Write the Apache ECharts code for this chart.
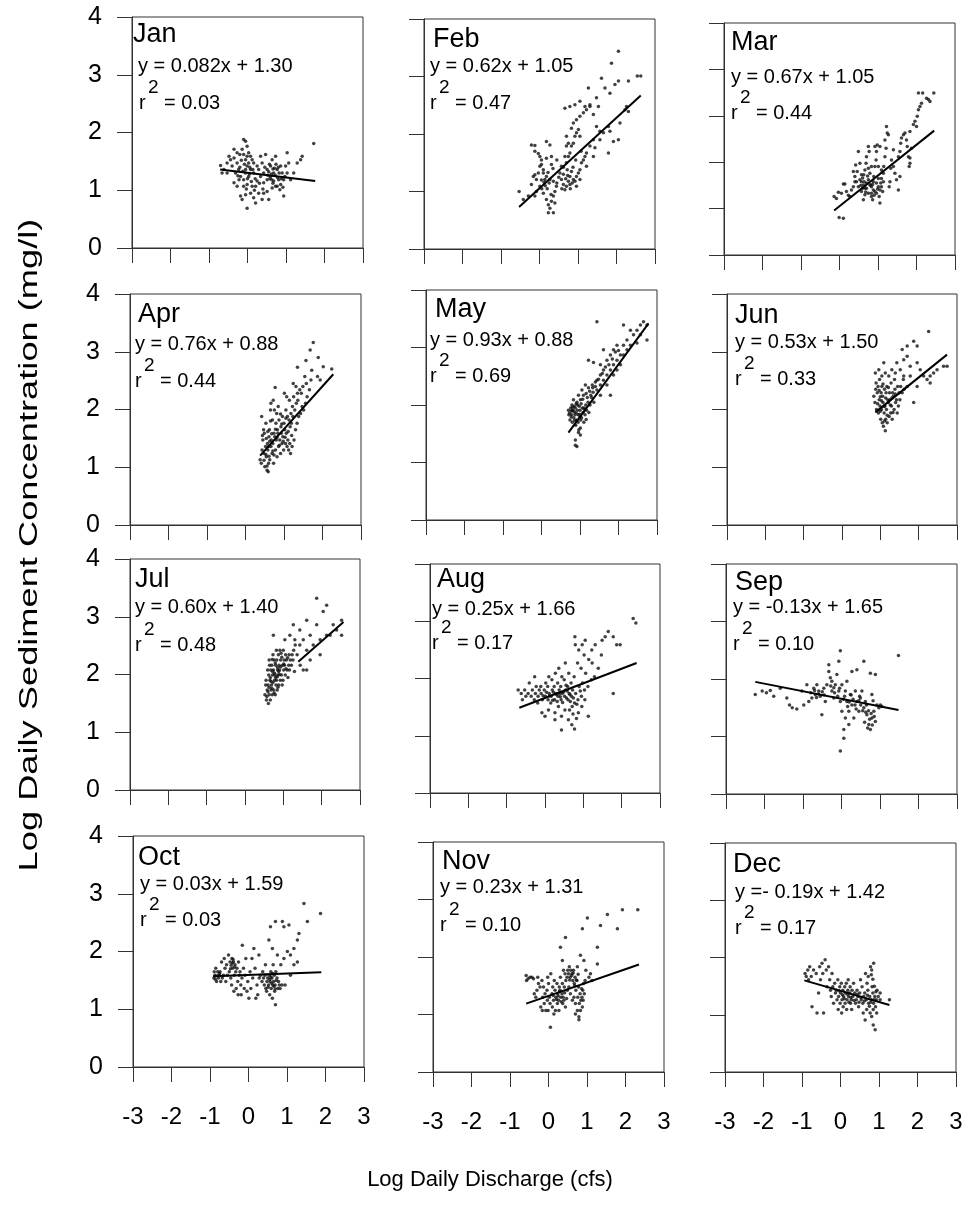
<!DOCTYPE html>
<html><head><meta charset="utf-8">
<script src="https://cdn.jsdelivr.net/npm/echarts@6/dist/echarts.min.js"></script>
<style>html,body{margin:0;padding:0;background:#fff}#c{width:967px;height:1205px}</style>
</head><body><div id="c"></div>
<script>
const months = ['Jan','Feb','Mar','Apr','May','Jun','Jul','Aug','Sep','Oct','Nov','Dec'];
const equations = ['y = 0.082x + 1.30','y = 0.62x + 1.05','y = 0.67x + 1.05','y = 0.76x + 0.88','y = 0.93x + 0.88','y = 0.53x + 1.50','y = 0.60x + 1.40','y = 0.25x + 1.66','y = -0.13x + 1.65','y = 0.03x + 1.59','y = 0.23x + 1.31','y =- 0.19x + 1.42'];
const r2Values = ['0.03','0.47','0.44','0.44','0.69','0.33','0.48','0.17','0.10','0.03','0.10','0.17'];
const xAxisName = 'Log Daily Discharge (cfs)';
const yAxisName = 'Log Daily Sediment Concentration (mg/l)';
const xRange = [-3, 3];
const yRangeMax = [4,4,5,4,4,4,4,4,4,4,4,4];

const jan = [[-0.70,1.43],[-0.66,1.30],[-0.61,1.36],[-0.53,1.47],[-0.48,1.59],[-0.44,1.53],[-0.40,1.42],[-0.35,1.56],[-0.31,1.30],[-0.27,1.47],[-0.53,1.30],[-0.20,1.62],[-0.18,1.24],[-0.14,1.71],[-0.10,1.88],[-0.05,1.85],[-0.01,1.76],[0.03,1.65],[0.08,1.59],[-0.01,1.42],[-0.05,1.36],[0.03,1.24],[-0.10,1.07],[-0.18,0.90],[-0.14,0.84],[-0.05,0.92],[-0.01,0.69],[0.08,0.95],[0.12,1.07],[0.16,0.87],[0.21,1.07],[0.25,1.16],[0.16,1.30],[0.29,1.36],[0.34,1.59],[0.38,1.47],[0.42,1.30],[0.47,1.62],[0.51,1.18],[0.55,0.84],[0.51,0.98],[0.60,1.42],[0.64,1.53],[0.68,1.30],[0.73,1.59],[0.77,1.07],[0.81,1.18],[0.84,1.01],[0.86,1.42],[0.90,1.30],[0.94,0.90],[0.99,1.42],[1.03,1.65],[1.07,1.47],[1.12,1.18],[1.20,1.30],[1.29,1.47],[1.38,1.53],[1.42,1.59],[1.72,1.81],[-0.35,1.13],[-0.27,1.07],[-0.23,1.36],[-0.10,1.18],[-0.01,1.10],[0.08,1.36],[0.16,1.47],[0.25,1.42],[0.34,1.24],[0.42,1.13],[0.51,1.36],[0.60,1.24],[0.68,1.16],[0.77,1.36],[0.86,1.10],[0.94,1.18],[1.03,1.30],[0.64,1.04],[0.73,1.07],[0.42,0.95],[0.29,0.95],[0.38,0.84],[0.21,0.78],[-0.01,1.59],[-0.05,1.53],[0.03,1.47],[0.12,1.53],[-0.10,1.62],[-0.27,1.65],[-0.35,1.71],[-0.05,1.30],[0.00,1.20],[0.05,1.28],[-0.12,1.33],[0.10,1.15],[0.55,1.32],[0.62,1.28],[0.70,1.38],[0.78,1.22],[0.82,1.30],[0.66,1.12],[0.58,1.20],[0.74,1.45],[-0.20,1.40],[-0.25,1.25],[0.45,1.40],[0.88,1.20],[0.92,1.05],[0.40,1.02],[0.20,1.20],[-0.08,1.45],[0.06,1.40],[-0.16,1.52],[0.14,1.36],[0.57,1.45],[0.66,1.37],[0.72,1.26],[0.80,1.40],[0.63,1.18],[0.53,1.26],[0.97,1.24],[-0.03,1.02],[0.18,1.00],[0.31,1.12],[-0.22,1.18]];
const feb = [[-0.53,1.00],[-0.42,0.86],[-0.29,0.92],[-0.21,1.12],[-0.16,1.26],[-0.12,1.29],[-0.08,1.21],[-0.03,1.32],[0.01,1.44],[0.05,1.47],[0.10,1.32],[0.14,1.21],[-0.12,0.92],[-0.08,1.00],[0.01,1.09],[0.10,0.97],[0.18,0.86],[0.23,0.77],[0.27,0.71],[0.23,0.63],[0.36,0.63],[0.31,0.83],[0.36,0.92],[0.40,1.00],[0.44,1.09],[0.36,1.18],[0.27,1.21],[0.18,1.26],[0.10,1.38],[0.05,1.55],[0.01,1.61],[-0.03,1.66],[-0.12,1.70],[-0.21,1.81],[-0.12,1.80],[0.18,1.87],[0.27,1.81],[0.18,1.58],[0.31,1.61],[0.31,1.47],[0.53,1.32],[0.57,1.21],[0.62,1.12],[0.66,1.03],[0.70,1.09],[0.75,1.18],[0.79,1.26],[0.83,1.35],[0.88,1.21],[0.92,1.18],[0.96,1.26],[1.01,1.32],[1.05,1.38],[1.09,1.50],[1.14,1.55],[1.18,1.61],[1.22,1.67],[0.70,1.50],[0.75,1.61],[0.79,1.67],[0.83,1.79],[0.88,1.84],[0.92,1.96],[0.96,2.02],[1.01,2.08],[1.05,1.96],[0.70,1.96],[0.75,1.84],[0.83,2.10],[0.88,2.19],[0.96,2.25],[1.05,2.31],[1.14,2.37],[1.22,2.42],[1.31,2.48],[0.66,2.45],[0.79,2.48],[0.92,2.51],[1.05,2.57],[1.18,2.48],[1.31,2.51],[1.40,2.34],[1.48,2.13],[1.57,2.05],[1.40,1.90],[1.31,1.79],[1.44,1.76],[1.40,1.61],[1.22,1.44],[1.05,1.21],[0.96,1.09],[0.79,1.12],[0.57,1.44],[0.66,1.61],[0.70,1.79],[1.27,2.80],[1.48,2.63],[1.53,2.48],[1.61,2.97],[1.70,2.80],[1.83,2.71],[1.87,3.23],[1.96,2.86],[2.05,2.92],[2.05,3.44],[2.31,2.92],[2.54,3.01],[2.63,3.01],[2.26,2.48],[2.31,2.39],[1.92,1.87],[2.05,1.90],[1.79,1.67],[1.83,2.05],[1.66,2.02],[1.79,2.13],[2.09,2.19],[2.22,2.42],[1.57,1.90],[0.45,1.15],[0.50,1.25],[0.58,1.05],[0.62,1.30],[0.68,1.22],[0.72,1.38],[0.80,1.05],[0.85,1.15],[0.20,1.05],[0.25,1.15],[0.05,1.20],[0.15,1.10],[0.40,0.80],[0.30,0.95],[0.35,1.40],[0.45,1.55],[0.12,1.16],[0.22,1.33],[0.06,1.05],[0.62,1.42],[0.73,1.28],[0.87,1.42],[0.94,1.55],[1.08,1.70]];
const mar = [[-0.14,1.26],[-0.08,1.22],[-0.01,0.81],[0.10,0.79],[-0.03,1.35],[0.05,1.33],[0.10,1.53],[0.14,1.53],[0.18,1.37],[0.23,1.29],[0.27,1.26],[0.31,1.40],[0.36,1.47],[0.40,1.58],[0.42,1.94],[0.46,1.80],[0.49,2.23],[0.53,1.98],[0.57,1.58],[0.60,1.44],[0.62,1.19],[0.63,1.73],[0.66,1.83],[0.69,1.98],[0.70,2.12],[0.75,2.34],[0.77,2.23],[0.79,1.76],[0.81,1.51],[0.83,1.33],[0.86,1.19],[0.88,1.58],[0.89,1.69],[0.92,1.91],[0.95,2.05],[0.96,2.23],[0.98,2.37],[1.01,1.47],[1.03,1.26],[1.05,1.12],[1.07,1.55],[1.09,1.65],[1.14,1.76],[1.15,1.91],[1.18,2.12],[1.21,2.30],[1.22,2.77],[1.24,2.63],[1.27,2.59],[1.29,1.47],[1.31,1.58],[1.33,1.87],[1.35,2.05],[1.40,1.91],[1.44,1.76],[1.48,1.62],[1.53,1.40],[1.53,2.12],[1.57,2.23],[1.59,2.41],[1.61,2.52],[1.66,2.59],[1.70,2.63],[1.74,2.48],[1.76,2.34],[1.79,2.12],[1.81,1.91],[1.83,2.09],[1.87,2.30],[1.83,2.66],[1.92,2.81],[1.96,2.88],[2.00,2.77],[2.02,2.99],[2.05,3.13],[2.09,3.20],[2.13,3.27],[2.16,3.49],[2.26,3.38],[2.31,3.35],[2.35,3.31],[2.45,3.49],[2.05,3.49],[1.83,1.98],[1.57,1.69],[1.40,2.27],[1.18,2.48],[1.05,2.34],[0.92,2.34],[0.53,1.62],[0.57,1.73],[0.62,1.51],[0.66,1.44],[0.70,1.55],[0.75,1.62],[0.79,1.51],[0.83,1.47],[0.88,1.40],[0.92,1.37],[0.96,1.55],[1.01,1.65],[0.70,1.44],[0.75,1.33],[0.83,1.26],[0.96,1.33],[1.05,1.40],[1.09,1.47],[1.14,1.58],[0.66,1.30],[0.57,1.37],[0.49,1.47],[0.44,1.58],[0.40,1.69],[0.36,1.80],[0.75,1.87],[0.83,1.91],[1.01,1.91],[1.09,1.83],[0.60,1.66],[0.68,1.36],[0.73,1.70],[0.86,1.52],[0.90,1.29],[0.99,1.42],[1.12,1.37],[0.55,1.50],[0.64,1.58]];
const apr = [[0.38,1.13],[0.41,1.07],[0.43,1.30],[0.45,1.47],[0.47,1.65],[0.42,1.88],[0.48,1.24],[0.50,1.01],[0.52,1.36],[0.49,1.59],[0.53,1.76],[0.56,0.95],[0.54,1.18],[0.57,1.41],[0.60,1.07],[0.58,1.30],[0.61,1.53],[0.59,0.92],[0.63,1.13],[0.66,1.36],[0.62,1.65],[0.65,1.99],[0.69,1.24],[0.67,1.47],[0.70,1.82],[0.66,2.11],[0.73,1.07],[0.71,1.41],[0.74,1.59],[0.72,2.16],[0.77,2.38],[0.78,1.30],[0.76,1.53],[0.79,1.76],[0.75,1.99],[0.82,1.18],[0.80,1.47],[0.83,1.65],[0.81,1.93],[0.86,1.36],[0.84,1.59],[0.87,1.82],[0.85,2.05],[0.91,1.24],[0.89,1.47],[0.92,1.70],[0.95,1.41],[0.93,1.59],[0.96,1.88],[0.99,1.30],[0.97,1.53],[1.00,1.76],[1.04,1.41],[1.02,1.65],[1.05,1.99],[1.01,2.28],[1.08,1.36],[1.06,1.59],[1.09,1.88],[1.07,2.22],[1.12,1.30],[1.10,1.47],[1.13,1.82],[1.17,1.24],[1.15,1.41],[1.18,1.93],[1.14,2.16],[1.21,1.36],[1.19,1.76],[1.22,2.05],[1.24,2.45],[1.26,1.47],[1.23,1.88],[1.25,2.22],[1.30,1.65],[1.28,1.99],[1.31,2.40],[1.34,1.76],[1.32,2.11],[1.35,2.28],[1.35,2.73],[1.38,1.88],[1.36,2.16],[1.43,1.93],[1.41,2.34],[1.47,2.05],[1.45,2.28],[1.51,1.99],[1.49,2.40],[1.56,2.11],[1.54,2.57],[1.57,2.85],[1.60,2.22],[1.58,2.45],[1.68,3.03],[1.66,2.34],[1.70,2.51],[1.76,3.16],[1.72,2.68],[1.87,2.57],[1.89,2.90],[1.94,2.51],[2.02,2.74],[2.24,2.70],[0.44,1.55],[0.53,1.22],[0.58,1.62],[0.63,1.45],[0.71,1.28],[0.78,1.66],[0.88,1.38],[0.94,1.75],[1.03,1.52],[1.11,1.62],[1.16,1.70],[0.48,1.12],[0.56,1.02],[0.61,1.19],[0.68,1.58],[0.74,1.21],[0.82,1.52],[0.91,1.92],[0.98,1.45],[1.05,1.85],[1.20,1.55],[0.60,1.36],[0.65,1.80],[0.54,1.50]];
const may = [[0.70,1.91],[0.71,1.83],[0.74,1.74],[0.76,1.95],[0.78,1.83],[0.80,1.70],[0.79,2.00],[0.82,1.91],[0.84,1.78],[0.83,2.09],[0.87,1.83],[0.89,1.65],[0.88,1.95],[0.91,1.74],[0.93,1.91],[0.92,2.05],[0.95,1.83],[0.97,1.57],[0.96,2.17],[1.00,1.91],[1.02,1.74],[1.01,1.48],[1.01,2.09],[1.04,1.78],[1.06,1.95],[1.05,2.26],[1.08,1.87],[1.10,1.70],[1.09,2.17],[1.13,1.83],[1.15,2.00],[1.14,2.35],[1.17,1.91],[1.19,2.13],[1.21,2.05],[1.23,1.87],[1.22,2.30],[1.26,2.00],[1.28,2.17],[1.30,2.13],[1.32,2.35],[1.34,2.22],[1.36,2.05],[0.88,1.30],[0.92,1.28],[0.88,1.39],[0.96,1.52],[1.01,1.60],[1.44,2.26],[1.44,2.43],[1.53,2.35],[1.53,2.52],[1.53,2.70],[1.61,2.43],[1.61,2.61],[1.70,2.52],[1.70,2.78],[1.70,2.35],[1.79,2.61],[1.79,2.87],[1.87,2.70],[1.87,2.96],[1.87,2.52],[1.96,2.78],[1.96,3.04],[2.05,2.87],[2.05,2.70],[2.13,3.04],[2.13,2.87],[2.22,3.13],[2.22,2.96],[2.31,3.04],[2.39,3.22],[2.48,3.30],[2.57,3.39],[2.65,3.45],[2.74,3.39],[2.74,3.13],[2.31,3.30],[2.13,3.39],[1.44,3.45],[1.22,2.78],[1.35,2.74],[1.61,2.96],[1.53,2.17],[1.40,2.40],[1.96,2.61],[2.48,3.08],[2.57,3.22],[1.79,2.17],[0.85,1.88],[0.90,2.02],[0.95,1.70],[1.00,1.80],[1.10,1.95],[1.16,1.75],[0.80,1.90],[0.98,1.98],[0.73,1.86],[0.77,1.79],[0.81,1.96],[0.86,1.73],[0.90,1.86],[0.94,2.00],[0.99,1.84],[1.03,2.02],[1.07,2.10],[1.12,1.93],[1.16,2.20],[1.25,2.24],[1.33,2.30],[1.40,2.32],[1.48,2.45],[1.58,2.55],[1.66,2.66],[1.75,2.70],[1.84,2.80],[1.92,2.92],[2.00,2.95],[0.85,1.98],[0.78,1.90]];
const jun = [[0.83,2.23],[0.86,2.12],[0.88,2.35],[0.90,2.00],[0.92,2.29],[0.89,2.46],[0.95,1.94],[0.97,2.17],[0.94,2.40],[1.01,1.83],[0.99,2.06],[1.02,2.29],[0.98,2.52],[1.05,1.77],[1.03,2.00],[1.06,2.23],[1.04,2.40],[1.08,1.71],[1.10,1.94],[1.07,2.12],[1.11,2.35],[1.14,1.83],[1.12,2.06],[1.15,2.29],[1.13,1.63],[1.18,1.77],[1.16,2.00],[1.19,2.17],[1.17,2.40],[1.23,1.88],[1.21,2.12],[1.24,2.29],[1.27,1.94],[1.25,2.17],[1.28,2.46],[1.31,1.83],[1.29,2.06],[1.32,2.29],[1.36,2.00],[1.34,2.23],[1.37,2.52],[1.40,2.12],[1.38,2.35],[1.44,1.94],[1.42,2.17],[1.49,2.29],[1.47,2.06],[1.53,2.40],[1.51,2.17],[1.57,2.29],[1.62,2.35],[1.60,2.52],[1.04,2.58],[1.13,2.63],[1.22,2.58],[1.30,2.69],[1.39,2.63],[1.43,2.81],[1.52,2.69],[1.61,2.86],[1.57,3.04],[1.70,2.92],[1.70,3.10],[1.78,2.75],[1.78,2.58],[1.87,3.18],[1.96,3.10],[1.96,2.81],[2.04,2.69],[2.13,2.58],[2.22,2.52],[2.30,2.58],[2.30,2.46],[2.39,2.63],[2.48,2.69],[2.65,2.75],[2.74,2.75],[1.87,2.12],[2.26,3.35],[1.61,2.58],[1.70,2.40],[1.96,2.40],[0.87,2.63],[0.96,2.69],[1.09,2.81],[0.93,2.10],[0.97,2.33],[1.00,1.97],[1.03,2.15],[1.07,2.44],[1.10,2.05],[1.14,2.20],[1.18,1.90],[1.21,2.38],[1.26,2.08],[1.30,2.20],[1.33,1.95],[1.39,2.27],[1.45,2.40],[1.00,2.22],[1.11,1.80]];
const jul = [[0.52,1.65],[0.54,1.82],[0.56,1.56],[0.58,1.73],[0.55,1.90],[0.59,2.08],[0.61,1.50],[0.63,1.65],[0.60,1.82],[0.62,1.99],[0.64,2.16],[0.66,1.56],[0.68,1.73],[0.65,1.90],[0.67,2.08],[0.63,2.25],[0.71,1.65],[0.69,1.82],[0.72,1.99],[0.70,2.16],[0.73,2.34],[0.75,1.73],[0.77,1.90],[0.74,2.08],[0.76,2.25],[0.74,2.68],[0.79,1.65],[0.81,1.82],[0.78,1.99],[0.80,2.16],[0.82,2.42],[0.84,1.73],[0.82,1.90],[0.85,2.08],[0.83,2.25],[0.88,1.82],[0.86,1.99],[0.89,2.16],[0.87,2.34],[0.92,1.90],[0.90,2.08],[0.93,2.25],[0.91,2.42],[0.97,1.82],[0.95,1.99],[0.98,2.16],[1.01,2.08],[0.99,1.90],[1.02,2.25],[1.00,2.42],[1.05,1.99],[1.03,2.16],[1.06,2.34],[1.10,2.08],[1.08,2.25],[1.14,2.16],[1.12,1.95],[1.15,2.34],[1.18,2.25],[1.16,2.08],[1.23,2.34],[1.21,2.16],[1.27,2.42],[1.25,2.25],[1.31,2.51],[1.29,2.05],[1.36,2.34],[1.44,2.16],[1.52,2.08],[1.61,2.08],[1.04,2.60],[1.17,2.68],[1.30,2.60],[1.43,2.77],[1.52,2.60],[1.61,2.94],[1.70,2.68],[1.78,2.51],[1.87,2.86],[1.87,3.32],[1.96,2.60],[1.96,2.34],[2.04,3.09],[2.13,2.68],[2.13,3.20],[2.22,2.68],[2.30,2.86],[2.39,2.77],[2.52,2.94],[2.52,2.68],[1.70,2.25],[1.61,2.42],[1.43,2.51],[1.26,2.86],[0.68,1.88],[0.80,1.95],[0.90,2.00],[0.72,2.05],[0.85,2.12],[0.63,1.78],[0.57,1.62],[0.60,1.70],[0.66,1.95],[0.70,1.76],[0.73,1.86],[0.77,2.02],[0.79,2.20],[0.84,1.96],[0.88,2.05],[0.93,2.13],[0.96,2.30],[1.01,2.18],[1.07,2.10],[1.11,2.29],[0.71,2.26],[0.76,1.68],[0.86,1.78],[0.94,2.37]];
const aug = [[-0.70,1.80],[-0.62,1.74],[-0.59,1.63],[-0.53,1.80],[-0.50,1.69],[-0.44,1.74],[-0.41,1.92],[-0.36,1.69],[-0.33,1.80],[-0.28,1.63],[-0.25,1.74],[-0.23,1.86],[-0.27,2.03],[-0.18,1.69],[-0.15,1.80],[-0.19,1.57],[-0.10,1.74],[-0.07,1.63],[-0.11,1.86],[-0.08,1.40],[0.01,1.69],[-0.02,1.80],[0.02,1.92],[0.00,1.34],[0.08,1.63],[0.11,1.74],[0.07,1.86],[0.10,2.03],[0.09,1.45],[0.16,1.69],[0.19,1.80],[0.15,1.57],[0.18,1.98],[0.25,1.63],[0.28,1.74],[0.24,1.86],[0.27,2.09],[0.26,1.40],[0.34,1.69],[0.37,1.80],[0.33,1.92],[0.36,2.18],[0.35,1.51],[0.42,1.63],[0.45,1.74],[0.41,1.86],[0.44,2.03],[0.43,1.34],[0.51,1.69],[0.54,1.80],[0.50,1.98],[0.53,2.27],[0.52,1.45],[0.60,1.63],[0.63,1.74],[0.59,1.86],[0.62,2.09],[0.61,1.28],[0.69,1.69],[0.72,1.80],[0.68,1.92],[0.71,1.51],[0.70,1.19],[0.77,1.12],[0.77,1.57],[0.80,1.74],[0.76,2.03],[0.78,2.73],[0.79,2.59],[0.86,1.63],[0.89,1.86],[0.85,2.27],[0.88,2.50],[0.87,1.40],[0.95,1.69],[0.98,1.92],[0.94,2.18],[0.97,2.59],[0.96,1.51],[1.03,1.80],[1.06,2.09],[1.02,2.41],[1.05,2.67],[1.12,1.86],[1.14,2.33],[1.13,1.34],[1.21,1.98],[1.23,2.27],[1.22,2.50],[1.29,2.03],[1.31,2.59],[1.39,2.18],[1.47,2.41],[1.49,2.67],[1.57,2.73],[1.65,2.82],[1.78,2.73],[1.87,2.59],[1.96,2.59],[1.78,1.74],[2.30,3.05],[2.37,2.97],[1.04,1.63],[0.26,1.28],[0.43,1.10],[0.30,1.72],[0.40,1.68],[0.48,1.76],[0.56,1.66],[0.65,1.72],[0.22,1.76],[0.12,1.70],[0.20,1.62],[0.32,1.60],[0.38,1.74],[0.46,1.58],[0.58,1.78],[0.66,1.60],[0.74,1.66],[0.83,1.55],[0.92,1.78],[0.04,1.76],[-0.05,1.70],[0.55,1.88],[0.64,1.45],[0.73,1.38],[0.82,1.30]];
const sep = [[-2.24,1.73],[-2.06,1.79],[-1.95,1.76],[-1.85,1.80],[-1.76,1.70],[-1.59,1.84],[-1.42,1.67],[-1.35,1.55],[-1.28,1.50],[-1.16,1.48],[-1.03,1.79],[-0.98,1.55],[-0.90,1.90],[-0.85,1.61],[-0.77,1.67],[-0.72,1.84],[-0.68,1.73],[-0.64,1.90],[-0.59,1.79],[-0.51,1.38],[-0.46,1.84],[-0.42,1.61],[-0.38,1.90],[-0.33,2.25],[-0.33,2.13],[-0.29,2.02],[-0.25,1.96],[-0.25,1.79],[-0.20,1.67],[-0.16,1.90],[-0.12,2.08],[-0.07,1.79],[-0.07,2.31],[-0.03,2.49],[-0.03,1.61],[0.01,1.90],[0.01,1.44],[0.06,1.12],[0.06,0.97],[-0.03,0.75],[0.10,1.79],[0.10,1.32],[0.14,1.96],[0.14,1.61],[0.19,1.44],[0.19,1.21],[0.23,1.73],[0.27,2.13],[0.27,1.55],[0.32,1.32],[0.36,1.79],[0.40,2.16],[0.40,1.61],[0.45,1.44],[0.49,1.67],[0.53,1.79],[0.58,2.31],[0.58,1.50],[0.62,1.61],[0.66,1.38],[0.71,1.21],[0.75,1.12],[0.75,2.10],[0.79,1.32],[0.79,1.73],[0.84,1.44],[0.88,2.08],[0.88,1.26],[0.92,1.55],[0.97,1.50],[1.01,1.55],[1.05,1.52],[1.48,2.41],[-0.80,1.76],[-0.70,1.80],[-0.60,1.74],[-0.50,1.78],[-0.45,1.72],[-0.20,1.85],[-0.10,1.70],[0.05,1.65],[0.20,1.60],[0.30,1.65],[0.35,1.55],[0.45,1.62],[0.50,1.55],[0.55,1.45],[0.65,1.55],[0.70,1.45],[0.60,1.25],[0.68,1.15],[0.73,1.30],[0.80,1.20],[0.85,1.35],[-0.55,1.70],[-0.65,1.68],[-0.28,1.88],[-0.18,1.76],[-0.05,1.84],[0.08,1.70],[0.16,1.52],[0.25,1.72],[0.38,1.48],[0.47,1.70],[0.63,1.42],[0.77,1.40],[0.82,1.62]];
const oct = [[-0.90,1.54],[-0.89,1.65],[-0.87,1.59],[-0.85,1.71],[-0.83,1.48],[-0.80,1.65],[-0.78,1.54],[-0.76,1.59],[-0.74,1.65],[-0.72,1.48],[-0.70,1.82],[-0.68,1.54],[-0.65,1.59],[-0.63,1.88],[-0.61,1.71],[-0.59,1.48],[-0.57,1.77],[-0.55,1.59],[-0.52,1.94],[-0.50,1.65],[-0.48,1.82],[-0.46,1.54],[-0.43,1.88],[-0.41,1.71],[-0.44,1.42],[-0.39,1.82],[-0.37,1.59],[-0.38,1.31],[-0.35,1.77],[-0.33,1.65],[-0.32,1.36],[-0.30,1.71],[-0.28,1.48],[-0.27,1.25],[-0.24,1.59],[-0.26,1.82],[-0.22,1.65],[-0.20,1.42],[-0.19,1.25],[-0.17,1.54],[-0.16,2.11],[-0.13,1.71],[-0.11,1.36],[-0.09,1.59],[-0.07,1.88],[-0.04,1.31],[-0.02,1.48],[0.01,1.19],[0.04,1.65],[0.06,1.36],[0.09,1.88],[0.11,1.54],[0.14,2.05],[0.17,1.71],[0.19,1.19],[0.22,1.42],[0.24,1.25],[0.27,1.94],[0.28,1.54],[0.31,1.59],[0.35,1.48],[0.37,1.65],[0.39,1.54],[0.41,1.42],[0.43,1.59],[0.45,1.36],[0.44,1.77],[0.48,1.48],[0.50,1.54],[0.47,1.31],[0.52,1.42],[0.54,1.59],[0.55,1.25],[0.53,2.20],[0.56,1.48],[0.58,1.65],[0.59,1.36],[0.57,2.43],[0.61,1.54],[0.63,1.42],[0.62,1.19],[0.64,1.77],[0.65,1.48],[0.67,1.59],[0.68,1.31],[0.69,1.42],[0.71,1.65],[0.70,1.08],[0.70,2.52],[0.74,1.54],[0.76,1.36],[0.75,1.94],[0.78,1.48],[0.80,1.42],[0.82,1.36],[0.84,1.77],[0.88,2.52],[0.87,1.42],[0.92,2.43],[0.92,1.88],[0.95,1.42],[1.01,2.00],[1.05,2.46],[1.09,1.94],[1.18,1.77],[1.18,2.05],[1.27,1.82],[1.27,2.20],[1.31,2.31],[1.44,2.83],[1.53,2.52],[1.87,2.66],[1.09,1.59],[0.62,2.05],[0.55,1.52],[0.60,1.45],[0.66,1.40],[0.72,1.50],[0.58,1.56],[0.63,1.62],[0.69,1.35],[0.51,1.38],[-0.45,1.76],[-0.40,1.86],[-0.42,1.80],[-0.47,1.70],[-0.36,1.73],[-0.80,1.58],[-0.86,1.52],[-0.75,1.62]];
const nov = [[-0.58,1.68],[-0.57,1.59],[-0.53,1.62],[-0.48,1.65],[-0.43,1.65],[-0.39,1.62],[-0.37,1.36],[-0.33,1.30],[-0.30,1.42],[-0.28,1.65],[-0.26,1.54],[-0.22,1.48],[-0.20,1.13],[-0.17,1.59],[-0.15,1.30],[-0.16,1.07],[-0.13,1.48],[-0.11,1.19],[-0.09,1.36],[-0.07,1.07],[-0.04,1.42],[-0.02,1.65],[-0.03,1.25],[-0.01,1.07],[0.00,1.54],[0.02,1.30],[0.05,0.78],[0.04,1.19],[0.06,1.71],[0.09,1.36],[0.11,1.48],[0.10,1.13],[0.13,1.25],[0.15,1.59],[0.14,1.01],[0.17,1.42],[0.19,1.30],[0.18,1.07],[0.22,1.54],[0.24,1.36],[0.23,1.19],[0.26,1.25],[0.28,1.48],[0.27,1.07],[0.30,1.42],[0.32,1.30],[0.31,1.65],[0.31,2.17],[0.35,1.36],[0.37,1.19],[0.36,1.54],[0.36,1.94],[0.39,1.77],[0.41,1.48],[0.40,1.25],[0.43,1.71],[0.45,1.59],[0.44,1.13],[0.44,2.34],[0.48,1.65],[0.50,1.77],[0.49,1.42],[0.52,1.71],[0.54,1.83],[0.53,1.48],[0.56,1.65],[0.58,1.77],[0.57,1.36],[0.61,1.71],[0.63,1.59],[0.62,1.25],[0.65,1.77],[0.67,1.54],[0.66,1.30],[0.69,1.65],[0.71,1.42],[0.70,1.19],[0.70,1.01],[0.74,1.59],[0.76,1.30],[0.75,1.07],[0.75,1.83],[0.78,1.48],[0.80,1.19],[0.79,0.96],[0.79,0.91],[0.82,1.36],[0.84,1.25],[0.83,1.07],[0.83,2.03],[0.87,1.30],[0.89,1.42],[0.88,1.13],[0.88,2.49],[0.91,1.54],[0.93,1.36],[0.92,1.94],[0.95,1.59],[0.97,1.77],[1.01,2.68],[1.09,1.71],[1.13,1.59],[1.27,1.88],[1.27,2.17],[1.35,2.55],[1.53,2.74],[1.79,2.49],[1.92,2.82],[2.32,2.82],[1.05,1.65],[0.25,1.32],[0.29,1.40],[0.33,1.22],[0.38,1.30],[0.42,1.38],[0.47,1.28],[0.55,1.60],[0.60,1.68],[0.64,1.72],[0.68,1.50],[0.72,1.60],[0.77,1.70],[0.86,1.45],[0.90,1.25],[0.21,1.26],[0.12,1.33]];
const dec = [[-0.92,1.72],[-0.89,1.67],[-0.85,1.78],[-0.83,1.61],[-0.80,1.84],[-0.76,1.67],[-0.74,1.14],[-0.70,1.78],[-0.63,1.72],[-0.61,1.03],[-0.57,1.38],[-0.54,1.84],[-0.52,1.61],[-0.48,1.90],[-0.46,1.72],[-0.44,1.03],[-0.40,1.96],[-0.37,1.78],[-0.35,1.49],[-0.31,1.84],[-0.28,1.61],[-0.26,1.43],[-0.22,1.72],[-0.24,1.32],[-0.20,1.49],[-0.18,1.20],[-0.15,1.55],[-0.13,1.38],[-0.11,1.43],[-0.09,1.26],[-0.07,1.61],[-0.05,1.32],[-0.06,1.09],[-0.02,1.49],[0.00,1.38],[-0.01,1.20],[0.02,1.55],[0.04,1.26],[0.03,1.03],[0.06,1.43],[0.08,1.32],[0.07,1.14],[0.11,1.49],[0.13,1.38],[0.12,1.20],[0.15,1.55],[0.17,1.26],[0.16,1.09],[0.19,1.43],[0.21,1.32],[0.20,1.61],[0.24,1.38],[0.26,1.20],[0.25,1.49],[0.28,1.26],[0.30,1.43],[0.29,1.09],[0.32,1.32],[0.34,1.55],[0.37,1.38],[0.39,1.20],[0.41,1.26],[0.43,1.43],[0.45,1.32],[0.47,1.14],[0.50,1.38],[0.52,1.61],[0.54,1.26],[0.56,1.49],[0.58,1.20],[0.60,1.32],[0.63,1.38],[0.65,1.72],[0.67,1.26],[0.69,1.55],[0.68,1.09],[0.71,1.43],[0.73,1.20],[0.72,1.67],[0.76,1.32],[0.78,1.84],[0.77,1.03],[0.80,1.26],[0.82,1.49],[0.81,1.78],[0.81,0.97],[0.84,1.38],[0.86,1.20],[0.85,1.09],[0.86,1.90],[0.85,0.82],[0.89,1.32],[0.91,1.14],[0.90,0.74],[0.93,1.26],[0.95,1.43],[0.94,1.03],[0.98,1.32],[1.03,1.26],[1.03,1.38],[1.27,1.26],[0.59,1.03],[0.64,0.91],[0.10,1.28],[0.18,1.36],[0.27,1.30],[0.35,1.25],[0.44,1.36],[0.53,1.30],[0.62,1.24],[0.70,1.34],[0.79,1.22],[0.87,1.26],[0.92,1.40],[0.05,1.35],[-0.04,1.42],[0.22,1.22],[0.48,1.22],[0.75,1.15],[0.88,1.50],[0.84,1.62],[0.80,1.70]];
const monthPoints = [jan, feb, mar, apr, may, jun, jul, aug, sep, oct, nov, dec];

const fitLines = [
  [[-0.71,1.36],[1.76,1.16]],
  [[-0.53,0.73],[2.63,2.67]],
  [[-0.14,0.96],[2.46,2.68]],
  [[0.38,1.20],[2.28,2.61]],
  [[0.70,1.52],[2.78,3.42]],
  [[0.87,1.95],[2.74,2.95]],
  [[1.39,2.22],[2.57,2.91]],
  [[-0.67,1.49],[2.39,2.27]],
  [[-2.24,1.95],[1.48,1.46]],
  [[-0.92,1.57],[1.89,1.64]],
  [[-0.58,1.19],[2.35,1.87]],
  [[-0.94,1.60],[1.27,1.17]]
];

// layout (pixels): panel left, top, width, height
const panelBox = [
  [132,17,231,231],[424,19,231,230],[724,23,231,232],
  [130,294,231,231],[426,290,231,230],[727,294,230,231],
  [130,559,230,231],[430,564,230,229],[726,564,231,230],
  [133,836,231,231],[433,842,231,230],[725,843,231,229]
];
// text offsets inside panel: month dx, month capTop dy, eq dx, eq capTop dy, r dx, r baseline dy
const textOff = [
  [1,8,6,42,7,93],[9,11,6,40,6,91],[7,10,7,47,7,97],
  [8,11,5,43,5,94],[9,10,4,43,4,93],[8,12,8,41,8,92],
  [5,11,5,41,5,93],[7,6,2,38,2,86],[9,9,7,36,7,87],
  [5,12,7,41,7,91],[9,10,7,38,7,90],[8,12,10,42,10,92]
];

const FF = '"Liberation Sans", Arial, sans-serif';
const AX = '#333';
const grids = [], xAxes = [], yAxes = [], series = [], graphics = [];
panelBox.forEach(([l,t,w,h], i) => {
  grids.push({left:l, top:t, width:w, height:h, show:true, borderColor:AX, borderWidth:1, backgroundColor:'transparent'});
  xAxes.push({gridIndex:i, type:'value', min:xRange[0], max:xRange[1], interval:1,
    axisLine:{show:true, onZero:false, lineStyle:{color:AX, width:1}},
    axisTick:{show:true, inside:false, length:15, lineStyle:{color:AX, width:1}},
    splitLine:{show:false},
    axisLabel:{show: i >= 9, fontSize:24, color:'#000', margin:38, fontFamily:FF}});
  yAxes.push({gridIndex:i, type:'value', min:0, max:yRangeMax[i], interval:1,
    axisLine:{show:true, onZero:false, lineStyle:{color:AX, width:1}},
    axisTick:{show:true, inside:false, length:15, lineStyle:{color:AX, width:1}},
    splitLine:{show:false},
    axisLabel:{show: i % 3 === 0, fontSize:25, color:'#000', margin:30, fontFamily:FF}});
  series.push({type:'scatter', xAxisIndex:i, yAxisIndex:i, data:monthPoints[i], symbol:'circle', symbolSize:3.5,
    itemStyle:{color:'#111'}, silent:true, z:2});
  series.push({type:'line', xAxisIndex:i, yAxisIndex:i, data:fitLines[i], symbol:'none',
    lineStyle:{color:'#000', width:2}, silent:true, z:3});
  const o = textOff[i];
  const tx = (x, y, text, size) => ({type:'text', x:x, y:y, silent:true, z:10,
    style:{text:text, fontSize:size, fontFamily:FF, fill:'#000', textAlign:'left', textVerticalAlign:'middle', align:'left', verticalAlign:'middle'}});
  graphics.push(tx(l+o[0], t+o[1]+10, months[i], 27));
  graphics.push(tx(l+o[2], t+o[3]+7, equations[i], 20));
  graphics.push(tx(l+o[4], t+o[5]-7, 'r', 20));
  graphics.push(tx(l+o[4]+9, t+o[5]-22, '2', 19));
  graphics.push(tx(l+o[4]+25, t+o[5]-7, '= ' + r2Values[i], 20));
});
graphics.push({type:'text', x:490, y:1180, silent:true,
  style:{text:xAxisName, fontSize:22, fontFamily:FF, fill:'#000', textAlign:'center', textVerticalAlign:'middle', align:'center', verticalAlign:'middle'}});
graphics.push({type:'text', x:30, y:545, rotation:Math.PI/2, scaleX:1.45, scaleY:1, silent:true,
  style:{text:yAxisName, fontSize:25, fontFamily:FF, fill:'#000', textAlign:'center', textVerticalAlign:'middle', align:'center', verticalAlign:'middle'}});

const chart = echarts.init(document.getElementById('c'), null, {renderer:'canvas'});
chart.setOption({animation:false, backgroundColor:'#fff', grid:grids, xAxis:xAxes, yAxis:yAxes, series:series, graphic:graphics});
</script></body></html>
